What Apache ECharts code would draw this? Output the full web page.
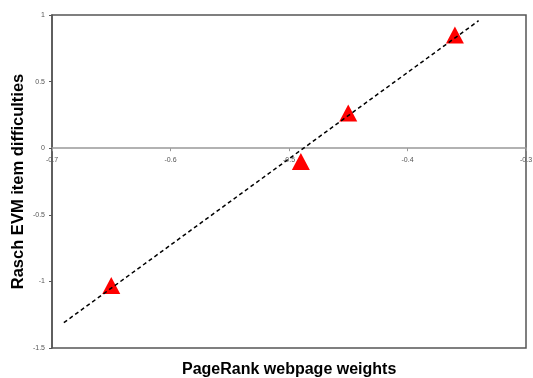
<!DOCTYPE html>
<html>
<head>
<meta charset="utf-8">
<script src="https://cdn.jsdelivr.net/npm/echarts@6/dist/echarts.min.js"></script>
<style>
html,body{margin:0;padding:0;background:#fff;}
#c{width:533px;height:378px;}
</style>
</head>
<body>
<div id="c"></div>
<script>
// Data
const pageRankWeights = [-0.65, -0.49, -0.45, -0.36];
const raschDifficulties = [-1.03, -0.10, 0.265, 0.85];
const fitLineX = [-0.69, -0.34];
const fitLineY = [-1.31, 0.957];
const xTicks = [-0.7, -0.6, -0.5, -0.4, -0.3];
const yTicks = [1, 0.5, 0, -0.5, -1, -1.5];

const scatterData = pageRankWeights.map((x, i) => [x, raschDifficulties[i]]);
const lineData = fitLineX.map((x, i) => [x, fitLineY[i]]);

const gridTop = 15, gridBottom = 30, H = 378;
const plotH = H - gridTop - gridBottom;
const zeroOffset = -plotH * (0 - yTicks[yTicks.length - 1]) / (yTicks[0] - yTicks[yTicks.length - 1]);

const chart = echarts.init(document.getElementById('c'), null, {renderer: 'canvas'});
chart.setOption({
  backgroundColor: '#fff',
  animation: false,
  grid: {left: 52, right: 7, top: gridTop, bottom: gridBottom, containLabel: false, outerBoundsMode: 'none',
    show: true, borderColor: '#555', borderWidth: 1.5},
  xAxis: {
    type: 'value', min: -0.7, max: -0.3, interval: 0.1,
    position: 'bottom', offset: zeroOffset,
    axisLine: {onZero: false, lineStyle: {color: '#999', width: 1.5}},
    axisTick: {show: true, inside: false, length: 3, lineStyle: {color: '#999'}},
    axisLabel: {color: '#555', fontSize: 7, fontFamily: 'Liberation Sans', margin: 8,
      formatter: v => xTicks.find(t => Math.abs(t - v) < 1e-9).toString()},
    splitLine: {show: false}
  },
  yAxis: {
    type: 'value', min: -1.5, max: 1, interval: 0.5,
    axisLine: {show: true, onZero: false, lineStyle: {color: '#555', width: 1.5}},
    axisTick: {show: true, length: 3, lineStyle: {color: '#555'}},
    axisLabel: {color: '#555', fontSize: 7, fontFamily: 'Liberation Sans', margin: 7,
      formatter: v => yTicks.find(t => Math.abs(t - v) < 1e-9).toString()},
    splitLine: {show: false}
  },
  graphic: [{
    type: 'text', left: 182, top: 362,
    style: {text: 'PageRank webpage weights', fill: '#000', font: 'bold 16px "Liberation Sans"'}
  }, {
    type: 'text', x: 18.5, y: 181.5, rotation: Math.PI / 2,
    style: {text: 'Rasch EVM item difficulties', fill: '#000', font: 'bold 16.5px "Liberation Sans"',
      textAlign: 'center', textVerticalAlign: 'middle'}
  }],
  series: [
    {
      type: 'scatter', data: scatterData, symbol: 'triangle', symbolSize: [18, 17],
      itemStyle: {color: '#ff0000', opacity: 1}, z: 2
    },
    {
      type: 'line', data: lineData, showSymbol: false, symbol: 'none',
      lineStyle: {color: '#000', width: 1.5, type: [4, 3]}, z: 3
    }
  ]
});
</script>
</body>
</html>
